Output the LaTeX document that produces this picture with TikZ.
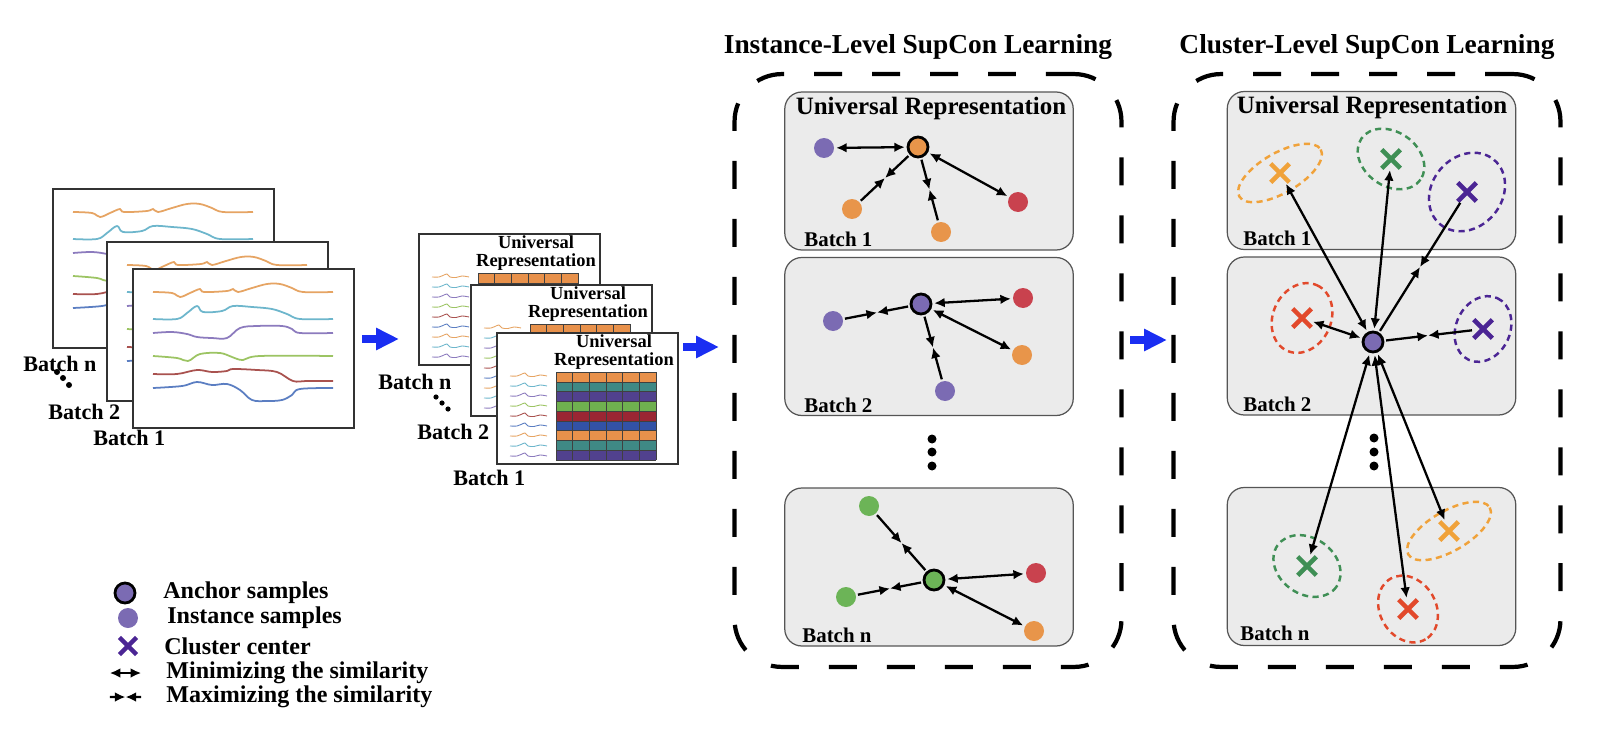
\documentclass[tikz,border=0pt]{standalone}
\usepackage{fontspec}
\setmainfont{Liberation Serif}
\usetikzlibrary{arrows.meta,positioning,calc,shapes.misc}
\definecolor{ipurple}{HTML}{7B6BB3}
\definecolor{iorange}{HTML}{E8954A}
\definecolor{ired}{HTML}{C9424E}
\definecolor{igreen}{HTML}{6CB457}
\definecolor{corange}{HTML}{F0A23A}
\definecolor{cgreen}{HTML}{3F8F55}
\definecolor{cpurple}{HTML}{4B2594}
\definecolor{cred}{HTML}{E2492B}
\definecolor{panelgray}{HTML}{EBEBEB}
\definecolor{panelline}{HTML}{555555}
\definecolor{flowblue}{HTML}{1A2EF2}
\definecolor{sorange}{HTML}{E6A463}
\definecolor{steal}{HTML}{6DB6CC}
\definecolor{spurple}{HTML}{8C7BBE}
\definecolor{sgreen}{HTML}{9CC463}
\definecolor{sred}{HTML}{A9524F}
\definecolor{sblue}{HTML}{5B7EC2}
\definecolor{gorange}{HTML}{E8914B}
\definecolor{gteal}{HTML}{3F8985}
\definecolor{gpurple}{HTML}{51418E}
\definecolor{ggreen}{HTML}{6FB04F}
\definecolor{gred}{HTML}{9A2633}
\definecolor{gblue}{HTML}{3252A6}

% six time series of one batch, in frame coordinates
\newcommand{\batchwaves}{%
  \draw[wave, sorange] plot[smooth, tension=0.6] coordinates {(21,24) (40,25) (48,29) (58,25) (68,21) (72,24) (95,23) (101,21) (106,24) (120,20) (135,16) (148,16) (160,20) (171,24) (201,24)};
  \draw[wave, steal] plot[smooth, tension=0.6] coordinates {(21,51) (45,51) (55,45) (65,38) (71,44) (90,43) (101,38) (120,39) (140,41) (155,46) (168,51) (201,51)};
  \draw[wave, spurple] plot[smooth, tension=0.6] coordinates {(21,65) (40,64) (55,66) (65,69) (80,70) (95,70) (108,60) (125,58) (150,58) (160,61) (168,65) (201,65)};
  \draw[wave, sgreen] plot[smooth, tension=0.6] coordinates {(21,88) (45,90) (56,93) (68,86) (88,85) (100,89) (111,92) (128,88) (201,88)};
  \draw[wave, sred] plot[smooth, tension=0.6] coordinates {(21,106) (45,106) (65,102) (80,104) (95,103) (101,101) (125,102) (145,104) (161,113) (175,113) (201,113)};
  \draw[wave, sblue] plot[smooth, tension=0.6] coordinates {(21,120) (50,118) (65,114) (80,117) (95,116) (108,122) (120,132) (135,133) (150,132) (160,127) (168,121) (201,120)};
}

% batch frame with its universal representation
\newcommand{\reprframe}[3]{%
  \node[reprbox] (#1) at (#2,#3) {};
  \begin{scope}[shift={(#1.north west)}]
    \foreach \c [count=\k, evaluate=\k as \yy using 34+10*\k] in {sorange,steal,spurple,sgreen,sred,sblue,sorange,steal,spurple}
      \draw[\c, line width=0.5pt] plot[smooth, tension=0.6] coordinates {(14,\yy) (21,\yy) (25,\yy-1.5) (29,\yy-3) (32,\yy) (38,\yy+0.5) (44,\yy-1) (51,\yy)};
    \foreach \c [count=\k] in {gorange,gteal,gpurple,ggreen,gred,gblue,gorange,gteal,gpurple}
      \fill[\c] (60,{40+(\k-1)*9.778}) rectangle (160,{40+\k*9.778});
    \foreach \i in {0,...,6} \draw[cellline] ({60+\i*16.667},40) -- ({60+\i*16.667},128);
    \foreach \i in {0,...,9} \draw[cellline] (60,{40+\i*9.778}) -- (160,{40+\i*9.778});
    \node[reprtxt] (#1t) at (118,20) {Universal\\Representation};
  \end{scope}}

\newcommand{\pulltogether}[2]{%
  \draw[sim] (#1) -- ($(#1)!0.5!(#2)$);
  \draw[sim] (#2) -- ($(#2)!0.5!(#1)$);}

\begin{document}
\begin{tikzpicture}[x=0.02cm, y=-0.02cm, every node/.style={font=\bfseries},
    sigframe/.style={draw=black!80, line width=1.1pt, fill=white, anchor=north west, inner sep=0pt, minimum width=4.42cm, minimum height=3.18cm},
    reprbox/.style={sigframe, minimum width=3.62cm, minimum height=2.62cm},
    wave/.style={line width=1pt},
    cellline/.style={black!75, line width=0.3pt},
    reprtxt/.style={font=\fontsize{10.5}{10.5}\selectfont\bfseries, align=center, inner sep=0pt},
    batchtxt/.style={font=\fontsize{12.6}{14}\selectfont\bfseries, anchor=west, inner sep=0pt},
    pbatch/.style={font=\fontsize{11.9}{14}\selectfont\bfseries, anchor=west, inner sep=0pt},
    bigtxt/.style={font=\fontsize{14.2}{16}\selectfont\bfseries, inner sep=0pt},
    headline/.style={font=\fontsize{15.6}{18}\selectfont\bfseries, inner sep=0pt},
    legtxt/.style={font=\fontsize{13.7}{16}\selectfont\bfseries, anchor=west, inner sep=0pt},
    dashbox/.style={draw, line width=2.4pt, dash pattern=on 0.56cm off 0.6cm, rounded corners=0.95cm, minimum width=7.74cm, minimum height=11.86cm, inner sep=0pt},
    panel/.style={draw=panelline, line width=0.7pt, fill=panelgray, rounded corners=0.34cm, minimum width=5.77cm, minimum height=3.16cm, inner sep=0pt},
    inst/.style={circle, minimum size=0.4cm, inner sep=0pt},
    anc/.style={circle, draw=black, line width=1.6pt, minimum size=0.4cm, inner sep=0pt},
    cmark/.style={cross out, line width=2.6pt, minimum size=0.28cm, inner sep=0pt},
    ring/.style={line width=1.4pt, dash pattern=on 3.5pt off 2.5pt},
    sim/.style={line width=1.3pt, -{Latex[length=6pt,width=5.5pt]}, shorten <=1pt},
    mini/.style={line width=1.3pt, {Latex[length=6pt,width=5.5pt]}-{Latex[length=6pt,width=5.5pt]}, shorten <=1pt, shorten >=1pt},
    flow/.style={flowblue, line width=0.16cm, -{Triangle[length=0.46cm,width=0.42cm]}}]
  \useasboundingbox (0,0) rectangle (1598,750);

  % raw batches
  \node[sigframe] (bn) at (52,188) {};
  \begin{scope}[shift={(bn.north west)}] \batchwaves \end{scope}
  \node[sigframe] (b2) at (106,241) {};
  \begin{scope}[shift={(b2.north west)}] \batchwaves \end{scope}
  \node[sigframe] (b1) at (132,268) {};
  \begin{scope}[shift={(b1.north west)}] \batchwaves \end{scope}
  \node[batchtxt] (bnl) at (23,364) {Batch n};
  \node[batchtxt] (b2l) at (48,412) {Batch 2};
  \node[batchtxt] (b1l) at (93,438) {Batch 1};
  \foreach \p in {(57,372),(63,378),(69,385)} \fill \p circle (3);

  % batches with representation
  \reprframe{rn}{418}{233}
  \reprframe{r2}{470}{284}
  \reprframe{r1}{496}{332}
  \node[batchtxt] (rnl) at (378,382) {Batch n};
  \node[batchtxt] (r2l) at (417,432) {Batch 2};
  \node[batchtxt] (r1l) at (453,478) {Batch 1};
  \foreach \p in {(436,397),(442,403),(448,409)} \fill \p circle (2.6);

  % flow arrows
  \coordinate (f1s) at (362,339);
  \coordinate (f1e) at (399,339);
  \coordinate (f2s) at (683,347);
  \coordinate (f2e) at (719,347);
  \coordinate (f3s) at (1130,340);
  \coordinate (f3e) at (1167,340);
  \draw[flow] (f1s) -- (f1e);
  \draw[flow] (f2s) -- (f2e);
  \draw[flow] (f3s) -- (f3e);

  % instance-level
  \node[headline] (ititle) at (918,47) {Instance-Level SupCon Learning};
  \node[dashbox] (inst) at (928,370.5) {};
  \node[panel] (ip1) at (929,171) {};
  \node[panel] (ip2) at (929,336.5) {};
  \node[panel] (ipn) at (929,567) {};
  \node[bigtxt] (iur) at (931,109) {Universal Representation};
  \node[pbatch] (ip1l) at (804,239) {Batch 1};
  \node[pbatch] (ip2l) at (804,405) {Batch 2};
  \node[pbatch] (ipnl) at (802,635) {Batch n};
  \foreach \y in {439,452,466} \fill (932,\y) circle (4.5);

  \node[anc, fill=iorange] (a1) at (918,147) {};
  \node[inst, fill=ipurple] (a1p) at (824,148) {};
  \node[inst, fill=iorange] (a1o) at (852,209) {};
  \node[inst, fill=iorange] (a1q) at (941,232) {};
  \node[inst, fill=ired] (a1r) at (1018,202) {};
  \draw[mini] (a1p) -- (a1);
  \draw[mini] (a1) -- (a1r);
  \pulltogether{a1}{a1o}
  \pulltogether{a1}{a1q}

  \node[anc, fill=ipurple] (a2) at (921,304) {};
  \node[inst, fill=ired] (a2r) at (1023,298) {};
  \node[inst, fill=ipurple] (a2p) at (833,321) {};
  \node[inst, fill=iorange] (a2o) at (1022,355) {};
  \node[inst, fill=ipurple] (a2q) at (945,391) {};
  \draw[mini] (a2) -- (a2r);
  \draw[mini] (a2) -- (a2o);
  \pulltogether{a2p}{a2}
  \pulltogether{a2}{a2q}

  \node[anc, fill=igreen] (an) at (934,580) {};
  \node[inst, fill=igreen] (ang) at (869,506) {};
  \node[inst, fill=igreen] (anh) at (846,597) {};
  \node[inst, fill=ired] (anr) at (1036,573) {};
  \node[inst, fill=iorange] (ano) at (1034,631) {};
  \draw[mini] (an) -- (anr);
  \draw[mini] (an) -- (ano);
  \pulltogether{ang}{an}
  \pulltogether{anh}{an}

  % cluster-level
  \node[headline] (ctitle) at (1367,47) {Cluster-Level SupCon Learning};
  \node[dashbox] (clus) at (1367,370.5) {};
  \node[panel] (cp1) at (1371.5,170.5) {};
  \node[panel] (cp2) at (1371.5,336) {};
  \node[panel] (cpn) at (1371.5,566.5) {};
  \node[bigtxt] (cur) at (1372,108) {Universal Representation};
  \node[pbatch] (cp1l) at (1243,238) {Batch 1};
  \node[pbatch] (cp2l) at (1243,404) {Batch 2};
  \node[pbatch] (cpnl) at (1240,633) {Batch n};
  \foreach \y in {438,452,466} \fill (1374,\y) circle (4.5);

  \node[cmark, draw=corange] (kx1) at (1280,173) {};
  \node[cmark, draw=cgreen] (kx2) at (1391,159) {};
  \node[cmark, draw=cpurple] (kx3) at (1467,192) {};
  \node[cmark, draw=cred] (kx4) at (1302,318) {};
  \node[cmark, draw=cpurple] (kx5) at (1483,329) {};
  \node[cmark, draw=cgreen] (kx6) at (1307,566) {};
  \node[cmark, draw=cred] (kx7) at (1408,609) {};
  \node[cmark, draw=corange] (kx8) at (1449,531) {};
  \draw[ring, corange, rotate around={30:(kx1)}] (kx1) ellipse [x radius=47, y radius=20];
  \draw[ring, cgreen, rotate around={-35:(kx2)}] (kx2) ellipse [x radius=36, y radius=27];
  \draw[ring, cpurple, rotate around={50:(kx3)}] (kx3) ellipse [x radius=42, y radius=35];
  \draw[ring, cred, rotate around={65:(kx4)}] (kx4) ellipse [x radius=36, y radius=29];
  \draw[ring, cpurple, rotate around={65:(kx5)}] (kx5) ellipse [x radius=34, y radius=27];
  \draw[ring, cgreen, rotate around={-35:(kx6)}] (kx6) ellipse [x radius=36, y radius=28];
  \draw[ring, cred, rotate around={-60:(kx7)}] (kx7) ellipse [x radius=35, y radius=28];
  \draw[ring, corange, rotate around={30:(kx8)}] (kx8) ellipse [x radius=47, y radius=20];

  \node[anc, fill=ipurple] (k) at (1373,342) {};
  \draw[mini] (k) -- (kx1);
  \draw[mini] (k) -- (kx2);
  \draw[mini] (k) -- (kx4);
  \draw[mini] (k) -- (kx6);
  \draw[mini] (k) -- (kx7);
  \draw[mini] (k) -- (kx8);
  \pulltogether{k}{kx3}
  \pulltogether{k}{kx5}

  % legend
  \node[anc, fill=ipurple] (lga) at (125,593) {};
  \node[inst, fill=ipurple] (lgi) at (128,618) {};
  \node[cmark, draw=cpurple, minimum size=0.25cm] (lgx) at (128,646) {};
  \coordinate (lm1) at (108,673);
  \coordinate (lm2) at (143,673);
  \coordinate (lp1) at (108,697);
  \coordinate (lp2) at (143,697);
  \draw[mini] (lm1) -- (lm2);
  \pulltogether{lp1}{lp2}
  \node[legtxt] (lgat) at (163,593) {Anchor samples};
  \node[legtxt] (lgit) at (167,618) {Instance samples};
  \node[legtxt] (lgxt) at (164,646) {Cluster center};
  \node[legtxt] (lgmt) at (166,673) {Minimizing the similarity};
  \node[legtxt] (lgpt) at (166,697) {Maximizing the similarity};
\end{tikzpicture}
\end{document}
